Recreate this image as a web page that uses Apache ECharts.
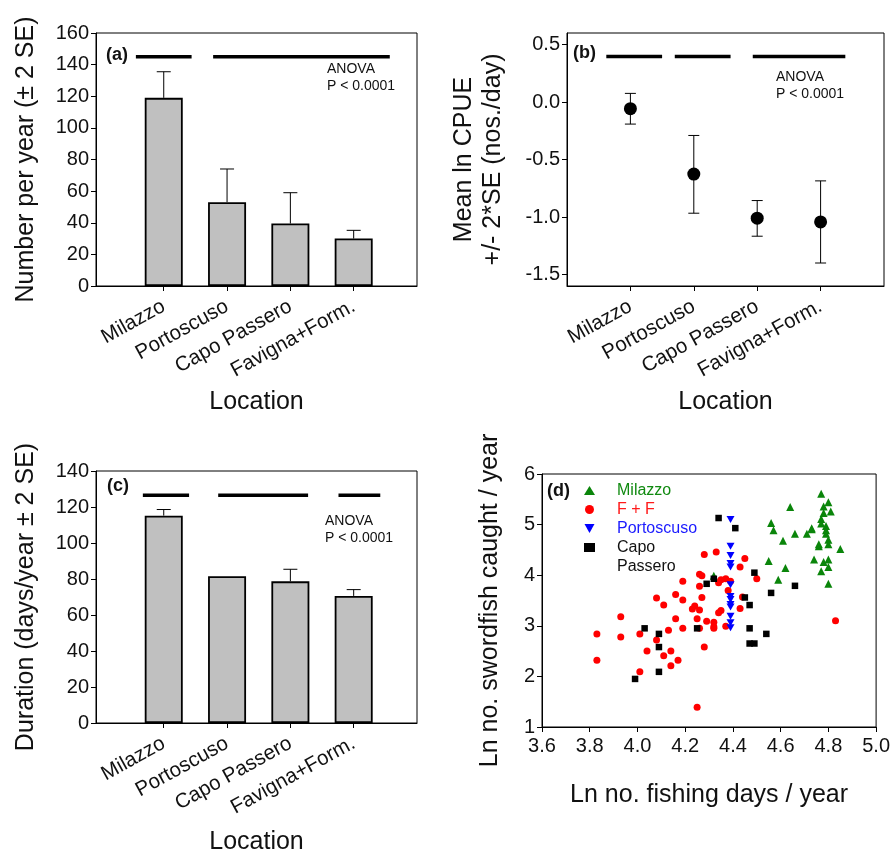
<!DOCTYPE html>
<html>
<head>
<meta charset="utf-8">
<script src="https://cdn.jsdelivr.net/npm/echarts@6/dist/echarts.min.js"></script>
<style>
  html, body { margin: 0; padding: 0; background: #fff; }
  #main { width: 893px; height: 856px; }
</style>
</head>
<body>
<div id="main"></div>
<script>
// locations shared by panels a, b, c
const locations = ['Milazzo', 'Portoscuso', 'Capo Passero', 'Favigna+Form.'];

// (a) number per year, bar + upper 2 SE
const numberMean = [119, 53, 39.5, 30];
const numberUpper = [135.5, 74, 59, 35.2];
const numberGroups = [[0.56, 1.44], [1.78, 4.57]];
const numberGroupY = 145;

// (b) mean ln CPUE +/- 2 SE
const cpueMean = [-0.058, -0.627, -1.01, -1.043];
const cpueLow = [-0.192, -0.967, -1.167, -1.4];
const cpueHigh = [0.075, -0.291, -0.857, -0.686];
const cpueGroups = [[0.62, 1.5], [1.7, 2.58], [2.93, 4.39]];
const cpueGroupY = 0.395;
const cpueTicks = [-1.5, -1, -0.5, 0, 0.5];

// (c) duration days/year
const durationMean = [115.2, 81.5, 78.7, 70.6];
const durationUpper = [118.6, 81.5, 85.4, 74.1];
const durationGroups = [[0.67, 1.4], [1.86, 3.28], [3.76, 4.42]];
const durationGroupY = 126.5;

// (d) ln fishing days vs ln swordfish caught
const milazzo = [
  [4.77, 5.61], [4.64, 5.35], [4.80, 5.44], [4.78, 5.36], [4.81, 5.26], [4.78, 5.23],
  [4.56, 5.03], [4.57, 4.89], [4.77, 5.11], [4.77, 5.02], [4.73, 4.93], [4.73, 4.91],
  [4.79, 4.97], [4.79, 4.89], [4.79, 4.82], [4.66, 4.82], [4.71, 4.82], [4.61, 4.68],
  [4.80, 4.70], [4.80, 4.61], [4.76, 4.57], [4.76, 4.61], [4.85, 4.52], [4.55, 4.28],
  [4.74, 4.31], [4.78, 4.26], [4.80, 4.31], [4.80, 4.16], [4.77, 4.08], [4.62, 4.14],
  [4.59, 3.91], [4.80, 3.83], [4.32, 3.99]
];
const fPlusF = [
  [4.28, 4.41], [4.33, 4.46], [4.26, 4.02], [4.27, 3.99], [4.35, 3.91], [4.34, 3.85],
  [4.37, 3.93], [4.19, 3.88], [4.16, 3.62], [4.08, 3.55], [4.19, 3.51], [4.11, 3.41],
  [3.93, 3.18], [4.27, 3.56], [4.24, 3.39], [4.26, 3.31], [4.23, 3.33], [4.25, 3.14],
  [4.29, 3.09], [4.32, 3.07], [4.32, 2.98], [4.35, 3.30], [4.34, 3.26], [4.16, 3.14],
  [3.83, 2.84], [3.93, 2.78], [4.01, 2.84], [4.19, 2.95], [4.26, 2.95], [4.32, 2.95],
  [4.37, 2.99], [4.13, 2.91], [4.08, 2.72], [4.28, 2.58], [4.04, 2.50], [4.14, 2.50],
  [4.11, 2.41], [3.83, 2.32], [4.17, 2.32], [4.14, 2.21], [4.01, 2.09], [4.25, 1.39],
  [4.45, 4.33], [4.43, 4.16], [4.50, 3.93], [4.39, 3.88], [4.38, 3.70], [4.44, 3.57],
  [4.43, 3.34], [4.83, 3.10], [4.26, 3.78]
];
const portoscuso = [
  [4.39, 5.10], [4.39, 4.57], [4.39, 4.39], [4.39, 4.23], [4.39, 4.16], [4.39, 3.81],
  [4.39, 3.58], [4.39, 3.52], [4.39, 3.42], [4.39, 3.37], [4.39, 3.19], [4.39, 3.06],
  [4.39, 2.96]
];
const capoPassero = [
  [4.34, 5.13], [4.41, 4.93], [4.49, 4.05], [4.29, 3.83], [4.32, 3.93], [4.66, 3.79],
  [4.56, 3.65], [4.45, 3.56], [4.47, 3.41], [4.03, 2.95], [4.25, 2.95], [4.47, 2.95],
  [4.09, 2.84], [4.54, 2.84], [4.09, 2.58], [4.47, 2.65], [4.49, 2.65], [4.09, 2.09],
  [3.99, 1.95]
];

const FONT = 'Liberation Sans, Arial, Helvetica, sans-serif';
const INK = '#111';
const chart = echarts.init(document.getElementById('main'));

function errorBars(capHalf, bothEnds) {
  return function (params, api) {
    const x = api.value(0);
    const a = api.coord([x, api.value(1)]);
    const b = api.coord([x, api.value(2)]);
    if (Math.abs(a[1] - b[1]) < 0.5) return { type: 'group', children: [] };
    const st = { stroke: '#000', lineWidth: 1 };
    const kids = [
      { type: 'line', shape: { x1: a[0], y1: a[1], x2: b[0], y2: b[1] }, style: st },
      { type: 'line', shape: { x1: b[0] - capHalf, y1: b[1], x2: b[0] + capHalf, y2: b[1] }, style: st }
    ];
    if (bothEnds) {
      kids.push({ type: 'line', shape: { x1: a[0] - capHalf, y1: a[1], x2: a[0] + capHalf, y2: a[1] }, style: st });
    }
    return { type: 'group', children: kids };
  };
}

function groupLines(params, api) {
  const p0 = api.coord([api.value(0), api.value(2)]);
  const p1 = api.coord([api.value(1), api.value(2)]);
  return {
    type: 'line',
    shape: { x1: p0[0], y1: p0[1], x2: p1[0], y2: p1[1] },
    style: { stroke: '#000', lineWidth: 3.5 }
  };
}

function locationAxis(gi, min) {
  return {
    gridIndex: gi, type: 'value', min: min, max: 5,
    axisLine: { onZero: false, lineStyle: { color: '#000', width: 1 } },
    axisTick: { customValues: [1, 2, 3, 4], length: 5, lineStyle: { color: '#000' } },
    axisLabel: {
      customValues: [1, 2, 3, 4], rotate: 29, margin: 19,
      formatter: v => locations[Math.round(v) - 1] || '',
      fontSize: 20.5, color: INK, fontFamily: FONT
    },
    splitLine: { show: false },
    name: 'Location', nameLocation: 'middle', nameGap: 104, nameMoveOverlap: false,
    nameTextStyle: { fontSize: 25, color: INK, fontFamily: FONT }
  };
}

function valueAxis(gi, extra, name, gap) {
  return Object.assign({
    gridIndex: gi, type: 'value',
    axisLine: { show: true, onZero: false, lineStyle: { color: '#000', width: 1 } },
    axisTick: { show: true, length: 5, lineStyle: { color: '#000' } },
    axisLabel: { fontSize: 20, color: INK, fontFamily: FONT, margin: 7 },
    splitLine: { show: false },
    name: name, nameLocation: 'middle', nameGap: gap, nameRotate: 90, nameMoveOverlap: false,
    nameTextStyle: { fontSize: 25, color: INK, fontFamily: FONT, lineHeight: 29 }
  }, extra);
}

const gridBox = { show: true, borderColor: '#000', borderWidth: 1, backgroundColor: 'transparent' };

function txt(x, y, text, size, bold, color) {
  return {
    type: 'text', x: x, y: y,
    style: {
      text: text, fontSize: size, fontWeight: bold ? 'bold' : 'normal',
      fontFamily: FONT, fill: color || INK, verticalAlign: 'middle', lineHeight: size + 3
    }
  };
}

const idx = locations.map((_, i) => i + 1);

const option = {
  animation: false,
  backgroundColor: '#fff',
  grid: [
    Object.assign({ left: 96, top: 33, width: 321, height: 253 }, gridBox),
    Object.assign({ left: 567, top: 33, width: 317, height: 253 }, gridBox),
    Object.assign({ left: 96, top: 471, width: 321, height: 253 }, gridBox),
    Object.assign({ left: 542, top: 474, width: 337, height: 253 }, gridBox)
  ],
  xAxis: [
    locationAxis(0, -0.07),
    locationAxis(1, 0),
    Object.assign(locationAxis(2, -0.07), { nameGap: 107 }),
    {
      gridIndex: 3, type: 'value', min: 3.6, max: 5.0, interval: 0.2,
      axisLine: { onZero: false, lineStyle: { color: '#000' } },
      axisTick: { length: 5, lineStyle: { color: '#000' } },
      axisLabel: { formatter: v => v.toFixed(1), fontSize: 20, color: INK, fontFamily: FONT, margin: 9 },
      splitLine: { show: false },
      name: 'Ln no. fishing days / year', nameLocation: 'middle', nameGap: 56, nameMoveOverlap: false,
      nameTextStyle: { fontSize: 25, color: INK, fontFamily: FONT }
    }
  ],
  yAxis: [
    valueAxis(0, { min: 0, max: 160, interval: 20 }, 'Number per year (± 2 SE)', 55),
    valueAxis(1, {
      min: -1.6, max: 0.6,
      axisTick: { show: true, length: 5, customValues: cpueTicks, lineStyle: { color: '#000' } },
      axisLabel: { customValues: cpueTicks, formatter: v => v.toFixed(1), fontSize: 20, color: INK, fontFamily: FONT, margin: 7 }
    }, 'Mean ln CPUE\n+/- 2*SE (nos./day)', 59),
    valueAxis(2, { min: 0, max: 140, interval: 20 }, 'Duration (days/year ± 2 SE)', 55),
    valueAxis(3, { min: 1, max: 6, interval: 1 }, 'Ln no. swordfish caught / year', 37)
  ],
  legend: {
    left: 584, top: 481, orient: 'vertical', padding: 0, itemGap: 0,
    itemWidth: 11, itemHeight: 9,
    formatter: n => (n === 'Capo Passero' ? 'Capo' : n),
    textStyle: { fontSize: 16, fontFamily: FONT, lineHeight: 19, padding: [0, 0, 0, 17] },
    data: [
      { name: 'Milazzo', textStyle: { color: '#108a10' } },
      { name: 'F + F', textStyle: { color: '#ff1a1a' } },
      { name: 'Portoscuso', textStyle: { color: '#1a1aff' } },
      { name: 'Capo Passero', textStyle: { color: INK } }
    ]
  },
  graphic: [
    txt(106, 55, '(a)', 18, true),
    txt(327, 78, 'ANOVA\nP < 0.0001', 14, false),
    txt(573, 53, '(b)', 18, true),
    txt(776, 86, 'ANOVA\nP < 0.0001', 14, false),
    txt(107, 486, '(c)', 18, true),
    txt(325, 530, 'ANOVA\nP < 0.0001', 14, false),
    txt(547, 491, '(d)', 18, true),
    txt(617, 567, 'Passero', 16, false)
  ],
  series: [
    {
      type: 'bar', xAxisIndex: 0, yAxisIndex: 0, barWidth: 38,
      data: idx.map((x, i) => [x, numberMean[i]]),
      itemStyle: { color: '#c0c0c0', borderColor: '#000', borderWidth: 1.8 }
    },
    {
      type: 'custom', xAxisIndex: 0, yAxisIndex: 0, renderItem: errorBars(7, false),
      encode: { x: 0, y: [1, 2] },
      data: idx.map((x, i) => [x, numberMean[i], numberUpper[i]])
    },
    {
      type: 'custom', xAxisIndex: 0, yAxisIndex: 0, renderItem: groupLines,
      encode: { x: [0, 1], y: 2 },
      data: numberGroups.map(g => [g[0], g[1], numberGroupY])
    },
    {
      type: 'custom', xAxisIndex: 1, yAxisIndex: 1, renderItem: errorBars(5.5, true),
      encode: { x: 0, y: [1, 2] },
      data: idx.map((x, i) => [x, cpueLow[i], cpueHigh[i]])
    },
    {
      type: 'scatter', xAxisIndex: 1, yAxisIndex: 1, symbolSize: 13,
      itemStyle: { color: '#000', opacity: 1 },
      data: idx.map((x, i) => [x, cpueMean[i]])
    },
    {
      type: 'custom', xAxisIndex: 1, yAxisIndex: 1, renderItem: groupLines,
      encode: { x: [0, 1], y: 2 },
      data: cpueGroups.map(g => [g[0], g[1], cpueGroupY])
    },
    {
      type: 'bar', xAxisIndex: 2, yAxisIndex: 2, barWidth: 38,
      data: idx.map((x, i) => [x, durationMean[i]]),
      itemStyle: { color: '#c0c0c0', borderColor: '#000', borderWidth: 1.8 }
    },
    {
      type: 'custom', xAxisIndex: 2, yAxisIndex: 2, renderItem: errorBars(7, false),
      encode: { x: 0, y: [1, 2] },
      data: idx.map((x, i) => [x, durationMean[i], durationUpper[i]])
    },
    {
      type: 'custom', xAxisIndex: 2, yAxisIndex: 2, renderItem: groupLines,
      encode: { x: [0, 1], y: 2 },
      data: durationGroups.map(g => [g[0], g[1], durationGroupY])
    },
    {
      name: 'Milazzo', type: 'scatter', xAxisIndex: 3, yAxisIndex: 3,
      symbol: 'triangle', symbolSize: 8, itemStyle: { color: '#0a850a', opacity: 1 },
      data: milazzo
    },
    {
      name: 'F + F', type: 'scatter', xAxisIndex: 3, yAxisIndex: 3,
      symbol: 'circle', symbolSize: 7, itemStyle: { color: '#ff0000', opacity: 1 },
      data: fPlusF
    },
    {
      name: 'Portoscuso', type: 'scatter', xAxisIndex: 3, yAxisIndex: 3,
      symbol: 'path://M0,0L10,0L5,9Z', symbolSize: [8, 7], itemStyle: { color: '#0000ff', opacity: 1 },
      data: portoscuso
    },
    {
      name: 'Capo Passero', type: 'scatter', xAxisIndex: 3, yAxisIndex: 3,
      symbol: 'rect', symbolSize: 6.5, itemStyle: { color: '#000', opacity: 1 },
      data: capoPassero
    }
  ]
};

chart.setOption(option);
</script>
</body>
</html>
